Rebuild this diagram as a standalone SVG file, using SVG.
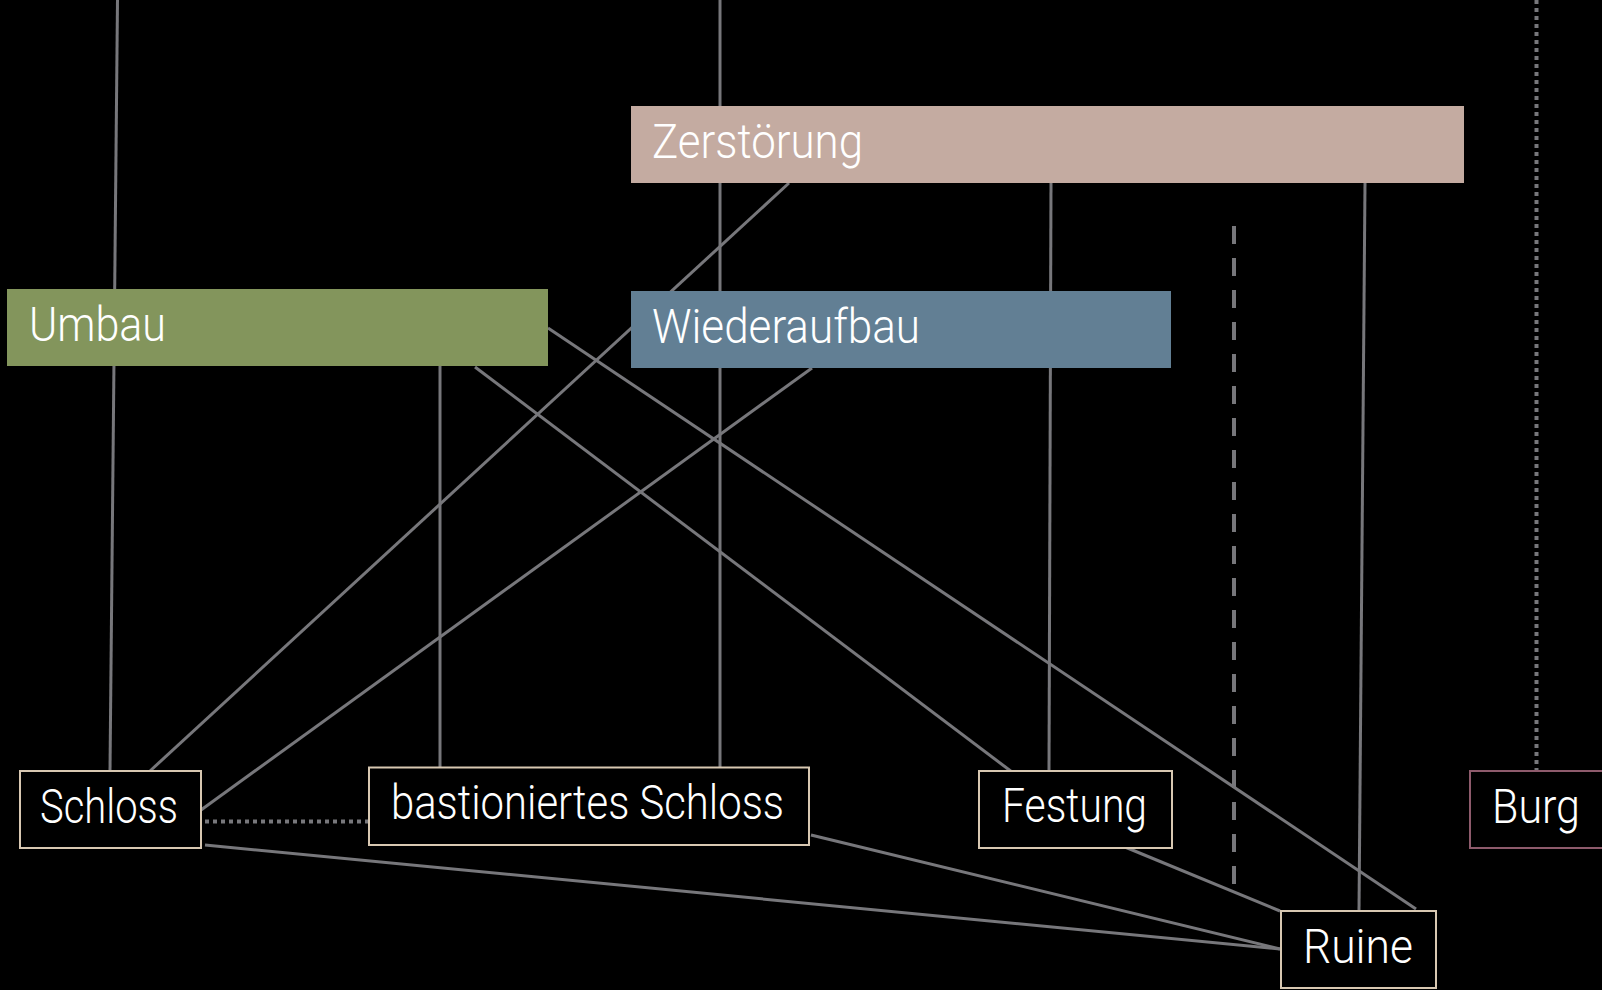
<svg xmlns="http://www.w3.org/2000/svg" width="1602" height="990" viewBox="0 0 1602 990">
<style>
.bg{fill:#000}
.ln{stroke:#77777b;stroke-width:3;fill:none}
.dot{stroke:#77777b;stroke-width:4;fill:none;stroke-dasharray:4 4}
.dash{stroke:#77777b;stroke-width:4;fill:none;stroke-dasharray:18 14}
.box{fill:#000;stroke:#d8c8b2;stroke-width:2}
.burg{fill:#000;stroke:#8e5b6c;stroke-width:2}
.t{font-family:Roboto,"Open Sans",sans-serif;font-weight:300;font-size:48px;fill:#fff}
</style>
<rect class="bg" x="0" y="0" width="1602" height="990"/>
<g id="connectors">
<line class="ln" x1="117.5" y1="0" x2="110" y2="771"/>
<line class="ln" x1="720" y1="0" x2="720" y2="767"/>
<line class="ln" x1="789" y1="183" x2="150" y2="771"/>
<line class="ln" x1="1051" y1="183" x2="1049" y2="771"/>
<line class="ln" x1="1365" y1="183" x2="1359" y2="911"/>
<line class="ln" x1="548" y1="328" x2="1416" y2="909"/>
<line class="ln" x1="475" y1="367" x2="1012" y2="772"/>
<line class="ln" x1="440" y1="366" x2="440" y2="768"/>
<line class="ln" x1="812" y1="368" x2="201" y2="810"/>
<line class="dot" x1="205" y1="821.5" x2="369" y2="821.5"/>
<line class="ln" x1="205" y1="845" x2="1280" y2="949"/>
<line class="ln" x1="811" y1="835" x2="1280" y2="949"/>
<line class="ln" x1="1125" y1="847" x2="1280" y2="911"/>
<line class="dash" x1="1234" y1="226" x2="1234" y2="892"/>
<line class="dot" x1="1536.5" y1="0" x2="1536.5" y2="770"/>
</g>
<g id="zerstoerung">
<rect x="631" y="106" width="833" height="77" fill="#c4aba1"/>
<text class="t" x="652" y="158" textLength="211" lengthAdjust="spacingAndGlyphs">Zerstörung</text>
</g>
<g id="umbau">
<rect x="7" y="289" width="541" height="77" fill="#83955c"/>
<text class="t" x="29" y="341" textLength="137" lengthAdjust="spacingAndGlyphs">Umbau</text>
</g>
<g id="wiederaufbau">
<rect x="631" y="291" width="540" height="77" fill="#627f94"/>
<text class="t" x="652" y="343" textLength="268" lengthAdjust="spacingAndGlyphs">Wiederaufbau</text>
</g>
<g id="schloss">
<rect class="box" x="20" y="771" width="181" height="77"/>
<text class="t" x="40" y="823" textLength="138" lengthAdjust="spacingAndGlyphs">Schloss</text>
</g>
<g id="bastioniertes-schloss">
<rect class="box" x="369" y="767.5" width="440" height="77.5"/>
<text class="t" x="391" y="819" textLength="393" lengthAdjust="spacingAndGlyphs">bastioniertes Schloss</text>
</g>
<g id="festung">
<rect class="box" x="979" y="771" width="193" height="77"/>
<text class="t" x="1002" y="822" textLength="145" lengthAdjust="spacingAndGlyphs">Festung</text>
</g>
<g id="ruine">
<rect class="box" x="1281" y="911" width="155" height="77"/>
<text class="t" x="1303" y="963" textLength="110" lengthAdjust="spacingAndGlyphs">Ruine</text>
</g>
<g id="burg">
<rect class="burg" x="1470" y="771" width="140" height="77"/>
<text class="t" x="1492" y="823" textLength="88" lengthAdjust="spacingAndGlyphs">Burg</text>
</g>
</svg>
